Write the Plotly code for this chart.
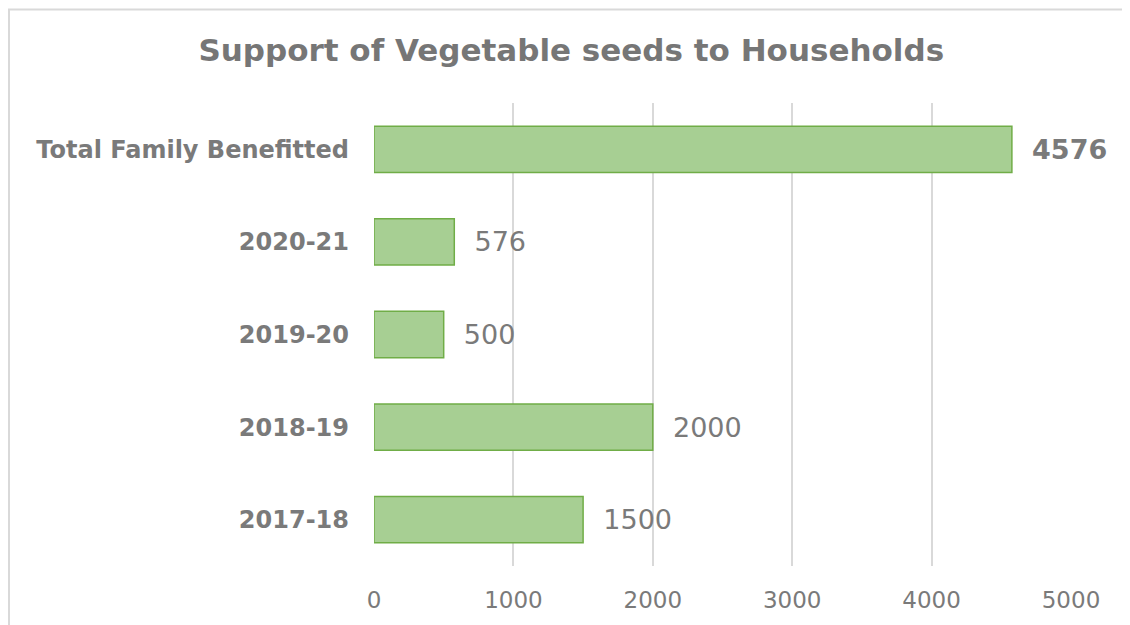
import plotly.graph_objects as go

categories = ["2017-18", "2018-19", "2019-20", "2020-21", "Total Family Benefitted"]
values = [1500, 2000, 500, 576, 4576]
x_ticks = [0, 1000, 2000, 3000, 4000, 5000]
title_text = "Support of Vegetable seeds to Households"

GREY = "#7a7a7a"
FONT = "DejaVu Sans"

label_text = []
for c, v in zip(categories, values):
    if c.startswith("Total"):
        label_text.append("\u00a0\u00a0<span style='font-size:27px'><b>%d</b></span>" % v)
    else:
        label_text.append("\u00a0\u00a0%d" % v)

cat_ticktext = []
for c in categories:
    size = 24 if c.startswith("Total") else 24
    cat_ticktext.append("<span style='font-size:%dpx'><b>%s</b></span>" % (size, c))

fig = go.Figure()
fig.add_trace(go.Bar(
    y=categories,
    x=values,
    orientation="h",
    width=0.5,
    marker=dict(color="#a7cf93", line=dict(color="#70ad47", width=1.5)),
    text=label_text,
    textposition="outside",
    textfont=dict(family=FONT, size=27, color=GREY),
    constraintext="none",
    cliponaxis=False,
    hoverinfo="skip",
))

W, H = 1122, 617
L, R, T, B = 366, 59, 95, 57
pw, ph = W - L - R, H - T - B

fig.update_layout(
    width=W,
    height=H,
    margin=dict(l=L, r=R, t=T, b=B),
    paper_bgcolor="white",
    plot_bgcolor="white",
    showlegend=False,
    font=dict(family=FONT, color=GREY),
    title=dict(
        text="<b>%s</b>" % title_text,
        x=0.502, xref="container", xanchor="center",
        y=0.932, yref="container", yanchor="middle",
        font=dict(family=FONT, size=31, color="#767676"),
    ),
    xaxis=dict(
        range=[0, 5000],
        tickvals=x_ticks,
        ticktext=[str(t) for t in x_ticks],
        showgrid=True,
        gridcolor="#d9d9d9",
        gridwidth=1.5,
        zeroline=False,
        showline=False,
        ticks="",
        ticklabelstandoff=18,
        tickfont=dict(family=FONT, size=23, color=GREY),
    ),
    yaxis=dict(
        type="category",
        categoryorder="array",
        categoryarray=categories,
        tickvals=categories,
        ticktext=cat_ticktext,
        range=[-0.5, 4.5],
        showgrid=False,
        zeroline=False,
        showline=False,
        ticks="",
        ticklabelstandoff=24,
        tickfont=dict(family=FONT, size=24, color=GREY),
    ),
    shapes=[dict(
        type="rect", xref="paper", yref="paper",
        x0=(1 - L) / pw, x1=1.3, y0=-0.3, y1=1 + (T - 1) / ph,
        line=dict(color="#d9d9d9", width=2),
        fillcolor="rgba(0,0,0,0)",
        layer="below",
    )],
)

fig.write_html("out.html")
